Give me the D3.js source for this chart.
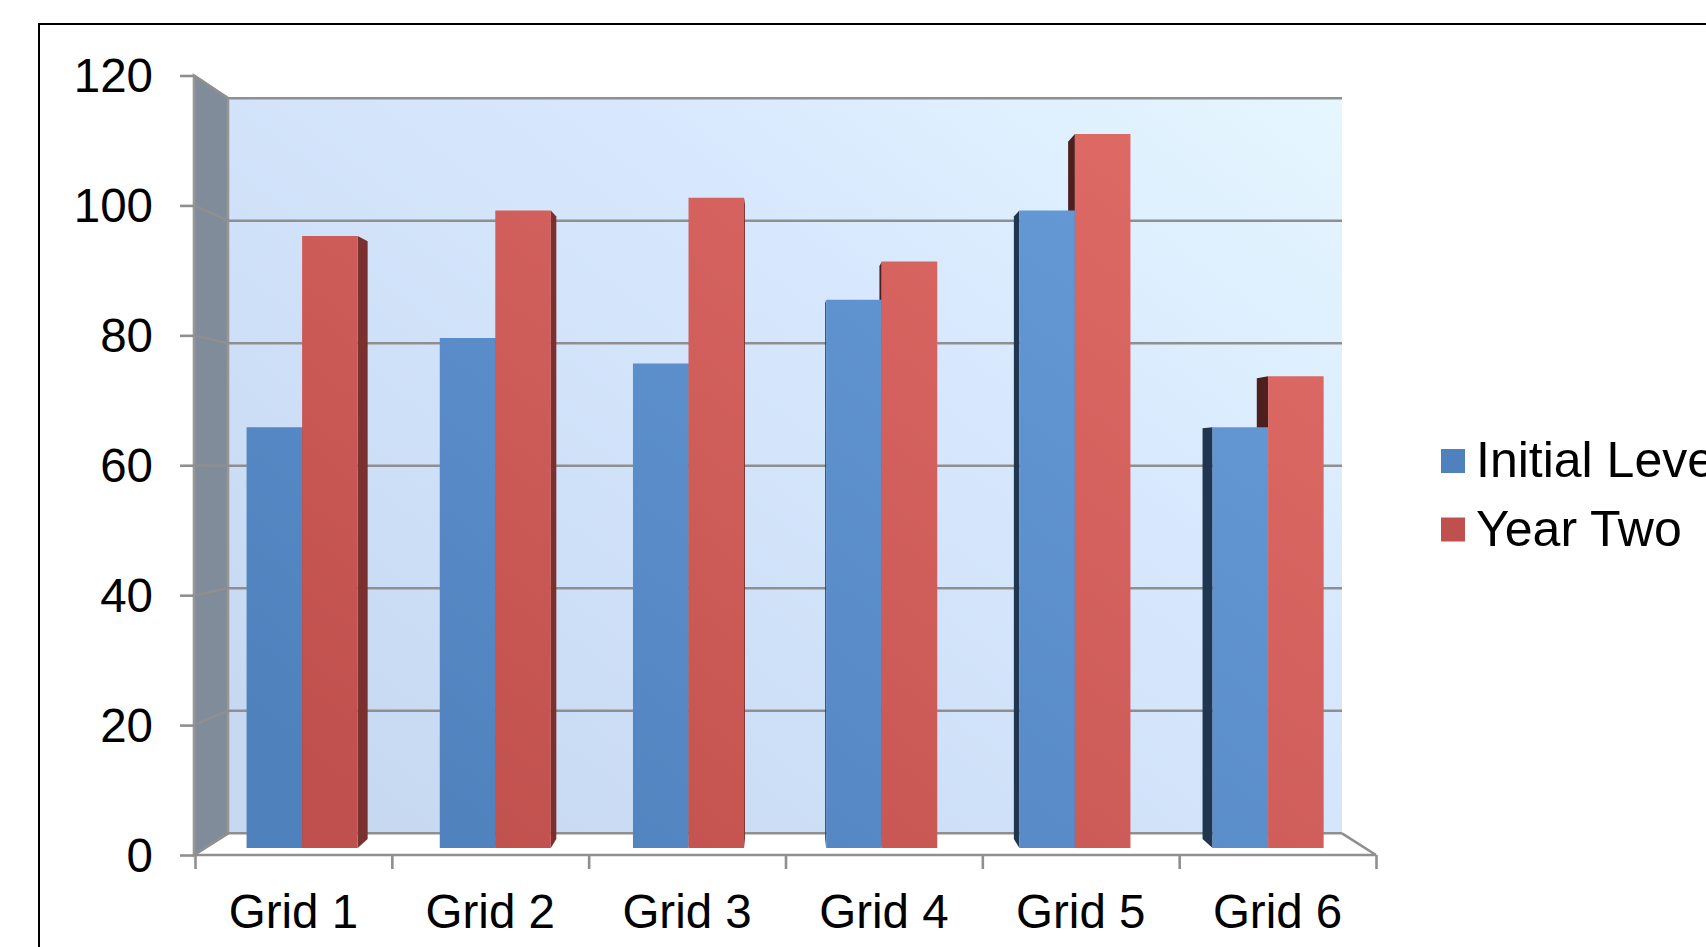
<!DOCTYPE html>
<html>
<head>
<meta charset="utf-8">
<script src="https://cdn.jsdelivr.net/npm/d3@7"></script>
<style>
  html, body { margin: 0; padding: 0; background: #fff; overflow: hidden; }
  svg { display: block; }
  text { font-family: "Liberation Sans", Arial, sans-serif; fill: #000; }
</style>
</head>
<body>
<div id="chart"></div>
<script>
// values
var categories = ["Grid 1", "Grid 2", "Grid 3", "Grid 4", "Grid 5", "Grid 6"];
var seriesNames = ["Initial Level", "Year Two"];
var initialLevel = [66, 80, 76, 86, 100, 66];
var yearTwo = [96, 100, 102, 92, 112, 74];
var yTicks = [0, 20, 40, 60, 80, 100, 120];

var width = 1706, height = 947;
var gridColor = "#8f8f8f", gridWidth = 2.6;

// the fake 3d box: front edge, back wall and the plane the bars stand on
var front = {left: 194, right: 1376, top: 75.5, bottom: 855};
var back = {left: 228, right: 1342, top: 98.3, bottom: 833.3};
var plane = {left: 205.5, right: 1364.7, top: 83, bottom: 848};
var vanish = {x: 785, y: 465}, barDepth = 0.0234;

var svg = d3.select("#chart")
  .append("svg")
    .attr("width", width)
    .attr("height", height);

// gradients run from lower left to upper right across the plot
var defs = svg.append("defs");
function addGradient(id, stops) {
  var g = defs.append("linearGradient")
    .attr("id", id)
    .attr("gradientUnits", "userSpaceOnUse")
    .attr("x1", back.left + 300).attr("y1", back.bottom + 100)
    .attr("x2", back.right - 100).attr("y2", back.top - 100);
  stops.forEach(function(s) {
    g.append("stop").attr("offset", s[0]).attr("stop-color", s[1]);
  });
}
addGradient("wallFill", [["0%", "#c6d9f1"], ["60%", "#d7e8fe"], ["100%", "#e6f7ff"]]);
addGradient("barFill0", [["0%", "#4f81bd"], ["100%", "#6a9fdc"]]);
addGradient("barFill1", [["0%", "#c0504d"], ["100%", "#e36e69"]]);

// outer frame, runs off the page on the right and bottom
svg.append("rect")
  .attr("x", 39).attr("y", 24)
  .attr("width", width).attr("height", height)
  .attr("fill", "none")
  .attr("stroke", "#000")
  .attr("stroke-width", 2);

var yFront = d3.scaleLinear().domain([0, 120]).range([front.bottom, front.top]);
var yBack = d3.scaleLinear().domain([0, 120]).range([back.bottom, back.top]);
var yBar = d3.scaleLinear().domain([0, 120]).range([plane.bottom, plane.top]);

var xGroup = d3.scaleBand()
  .domain(categories)
  .range([plane.left, plane.right])
  .paddingInner(0.425)
  .paddingOuter(0.2125);
var xSeries = d3.scaleBand()
  .domain(d3.range(seriesNames.length))
  .range([0, xGroup.bandwidth()]);

// Walls
svg.append("rect")
  .attr("x", back.left).attr("y", back.top)
  .attr("width", back.right - back.left)
  .attr("height", back.bottom - back.top)
  .attr("fill", "url(#wallFill)");

svg.append("path")
  .attr("d", d3.line()([[front.left, front.top], [back.left, back.top], [back.left, back.bottom], [front.left, front.bottom]]) + "Z")
  .attr("fill", "#808c99")
  .attr("stroke", "#969696")
  .attr("stroke-width", gridWidth);

// Grid lines on the back wall and across the left wall
var grid = svg.append("g")
  .attr("stroke", gridColor)
  .attr("stroke-width", gridWidth)
  .attr("fill", "none");

grid.selectAll(".back")
  .data(yTicks)
  .enter()
  .append("line")
    .attr("x1", back.left).attr("x2", back.right)
    .attr("y1", function(d) { return yBack(d); })
    .attr("y2", function(d) { return yBack(d); });

grid.selectAll(".side")
  .data(yTicks)
  .enter()
  .append("line")
    .attr("x1", front.left).attr("x2", back.left)
    .attr("y1", function(d) { return yFront(d); })
    .attr("y2", function(d) { return yBack(d); });

// floor edges
grid.append("line")
  .attr("x1", back.right).attr("y1", back.bottom)
  .attr("x2", front.right).attr("y2", front.bottom);
grid.append("line")
  .attr("x1", front.left).attr("y1", front.bottom)
  .attr("x2", front.right).attr("y2", front.bottom);

// Bars
var bars = [];
categories.forEach(function(c, i) {
  [initialLevel[i], yearTwo[i]].forEach(function(v, s) {
    bars.push({category: c, series: s, value: v,
      x0: xGroup(c) + xSeries(s),
      x1: xGroup(c) + xSeries(s) + xSeries.bandwidth()});
  });
});

// side face of a bar, pulled toward the vanishing point
function sidePath(d) {
  var edge = d.x1 < vanish.x ? d.x1 : d.x0;
  var top = yBar(d.value), bottom = yBar(0);
  function away(x, y) {
    return [x + (vanish.x - x) * barDepth, y + (vanish.y - y) * barDepth];
  }
  return d3.line()([[edge, top], away(edge, top), away(edge, bottom), [edge, bottom]]) + "Z";
}
function sideColor(d) {
  var right = d.x1 < vanish.x;
  if (d.series === 0) return right ? "#2a4a70" : "#1f3550";
  return right ? "#7b3030" : "#4f1f1e";
}

svg.append("g").selectAll("path")
  .data(bars)
  .enter()
  .append("path")
    .attr("d", sidePath)
    .attr("fill", sideColor);

svg.append("g").selectAll("rect")
  .data(bars)
  .enter()
  .append("rect")
    .attr("x", function(d) { return d.x0; })
    .attr("y", function(d) { return yBar(d.value); })
    .attr("width", function(d) { return d.x1 - d.x0; })
    .attr("height", function(d) { return yBar(0) - yBar(d.value); })
    .attr("fill", function(d) { return "url(#barFill" + d.series + ")"; });

// Y axis
var yAxis = svg.append("g")
  .attr("transform", "translate(" + front.left + ",0)")
  .call(d3.axisLeft(yFront).tickValues(yTicks).tickSize(14).tickPadding(27));
yAxis.select(".domain").remove();
yAxis.selectAll("line").attr("stroke", gridColor).attr("stroke-width", gridWidth);
yAxis.selectAll("text")
  .style("font-size", "47.5px")
  .attr("dy", "0.34em")
  .attr("text-anchor", "end");

// X axis: ticks between the groups, labels centred between ticks
var xTicks = d3.scaleLinear().domain([0, categories.length]).range([195, 1376]);
var xLine = svg.append("g")
  .attr("transform", "translate(0," + front.bottom + ")")
  .call(d3.axisBottom(xTicks).tickValues(d3.range(categories.length + 1)).tickSize(14).tickFormat(""));
xLine.select(".domain").remove();
xLine.selectAll("line").attr("stroke", gridColor).attr("stroke-width", gridWidth);

var xLabels = d3.scaleBand().domain(categories).range(xTicks.range());
var xAxis = svg.append("g")
  .attr("transform", "translate(0," + front.bottom + ")")
  .call(d3.axisBottom(xLabels).tickSize(0).tickPadding(39));
xAxis.select(".domain").remove();
xAxis.selectAll("text").style("font-size", "47.5px");

// Legend, the long name runs off the page as in the original
var legend = svg.append("g").selectAll("g")
  .data(seriesNames)
  .enter()
  .append("g")
    .attr("transform", function(d, i) { return "translate(1441," + (449 + i * 68.5) + ")"; });

legend.append("rect")
  .attr("width", 24).attr("height", 24)
  .attr("fill", function(d, i) { return i === 0 ? "#4f81bd" : "#c0504d"; });

legend.append("text")
  .attr("x", 35).attr("y", 28)
  .style("font-size", "50px")
  .text(function(d) { return d; });
</script>
</body>
</html>
